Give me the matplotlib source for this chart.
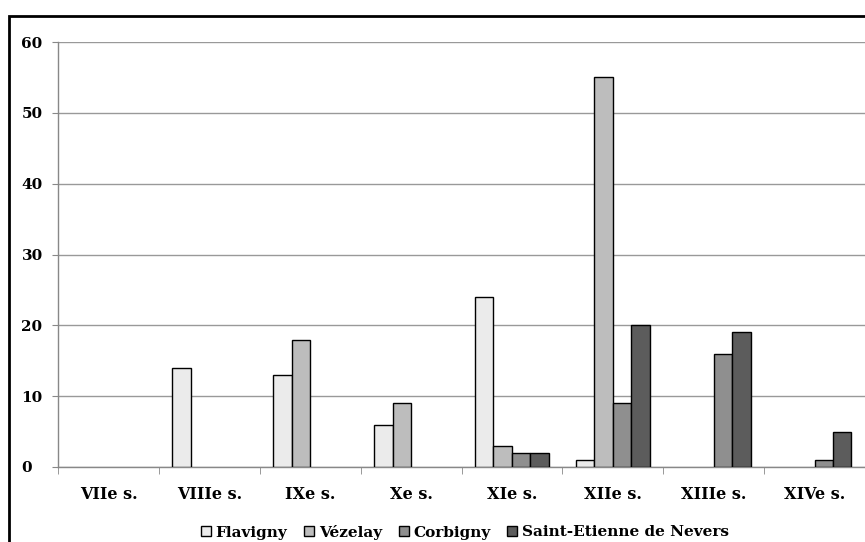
import numpy as np
import matplotlib.pyplot as plt
from matplotlib.patches import Rectangle

siecles = ['VIIe s.', 'VIIIe s.', 'IXe s.', 'Xe s.', 'XIe s.', 'XIIe s.', 'XIIIe s.', 'XIVe s.']
flavigny = [0, 14, 13, 6, 24, 1, 0, 0]
vezelay = [0, 0, 18, 9, 3, 55, 0, 0]
corbigny = [0, 0, 0, 0, 2, 9, 16, 1]
nevers = [0, 0, 0, 0, 2, 20, 19, 5]
series_names = ['Flavigny', 'Vézelay', 'Corbigny', 'Saint-Etienne de Nevers']

colors = ['#ebebeb', '#bdbdbd', '#8f8f8f', '#5c5c5c']

plt.rcParams['font.family'] = ['DejaVu Serif']
plt.rcParams['font.weight'] = 'bold'

fig = plt.figure(figsize=(8.65, 5.42), dpi=100)
ax = fig.add_axes([58 / 865, 75 / 542, 1 - 58 / 865, 425 / 542])

x = np.arange(len(siecles))
w = 0.183
data = [flavigny, vezelay, corbigny, nevers]
for i, (vals, name, c) in enumerate(zip(data, series_names, colors)):
    v = np.array(vals, dtype=float)
    mask = v > 0
    ax.bar(x[mask] + (i - 1.5) * w, v[mask], width=w, color=c,
           edgecolor='black', linewidth=1.0, label=name, zorder=3)

ax.set_xlim(-0.5, len(siecles) - 0.5)
ax.set_ylim(0, 60)
ax.set_yticks(range(0, 61, 10))
ax.yaxis.grid(True, color='#999999', linewidth=1.0, zorder=0)

ax.set_xticks(x)
ax.set_xticklabels(siecles, fontsize=11.5, fontweight='bold')
ax.set_xticks(np.arange(-0.5, len(siecles)), minor=True)
ax.tick_params(axis='x', which='major', length=0, pad=14)
ax.tick_params(axis='x', which='minor', length=5, color='#888888', direction='out')
ax.tick_params(axis='y', length=4.3, color='#888888', pad=22, labelsize=11)
for lab in ax.get_yticklabels():
    lab.set_horizontalalignment('left')
    lab.set_fontweight('bold')

for s in ['top', 'right']:
    ax.spines[s].set_visible(False)
for s in ['left', 'bottom']:
    ax.spines[s].set_color('#888888')
    ax.spines[s].set_linewidth(1.0)

leg = fig.legend(loc='center', bbox_to_anchor=(465 / 865, 10 / 542), ncol=4,
                 frameon=False, fontsize=11, handlelength=0.65, handleheight=0.65,
                 handletextpad=0.3, columnspacing=1.1, borderaxespad=0)
for t in leg.get_texts():
    t.set_fontweight('bold')

fig.patches.append(Rectangle((9 / 865, -0.1), 1.0, (542 - 16) / 542 + 0.1,
                             transform=fig.transFigure, fill=False,
                             edgecolor='black', linewidth=2.0))

fig.savefig('out.png', dpi=100)
